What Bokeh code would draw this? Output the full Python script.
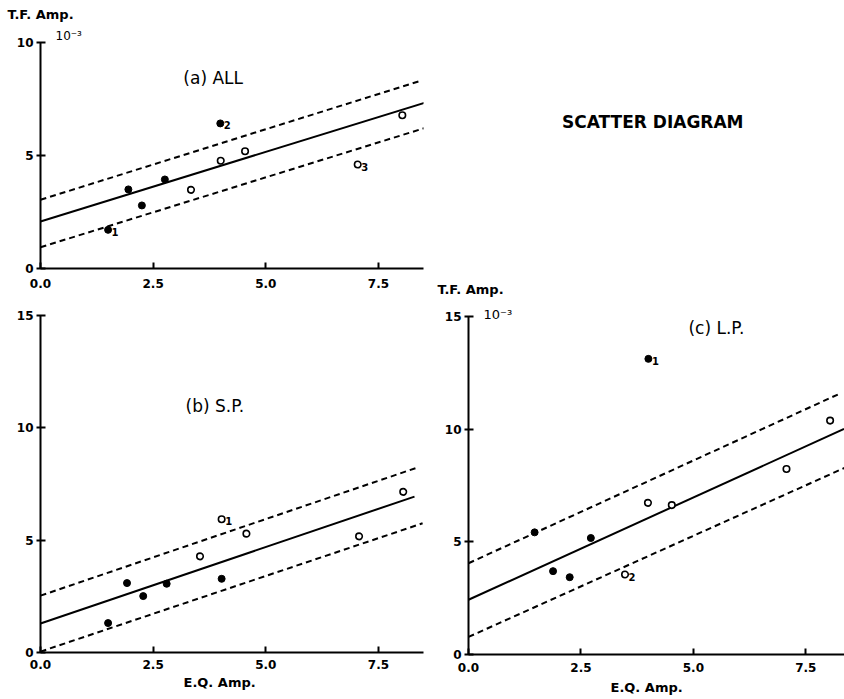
from bokeh.plotting import figure
from bokeh.layouts import row, column
from bokeh.models import Label, Range1d, FixedTicker, PrintfTickFormatter, ColumnDataSource, Title
from bokeh.embed import file_html
from bokeh.resources import INLINE
from bokeh.core.properties import value

# ---------------- data ----------------
x_ticks = [0.0, 2.5, 5.0, 7.5]

# (a) ALL
a_filled_x = [1.95, 2.25, 2.76, 1.50, 3.99]
a_filled_y = [3.50, 2.79, 3.94, 1.71, 6.42]
a_open_x = [3.34, 4.00, 4.54, 7.04, 8.03]
a_open_y = [3.48, 4.77, 5.19, 4.60, 6.78]
a_line_x0 = [0.0, 0.0, 0.0]
a_line_y0 = [2.08, 3.04, 0.94]
a_line_x1 = [8.52, 8.41, 8.52]
a_line_y1 = [7.33, 8.29, 6.21]
a_note_x = [1.50, 3.99, 7.04]
a_note_y = [1.71, 6.42, 4.60]
a_note_t = ["1", "2", "3"]
a_y_ticks = [0, 5, 10]

# (b) S.P.
b_filled_x = [1.50, 1.92, 2.28, 2.80, 4.02]
b_filled_y = [1.31, 3.09, 2.51, 3.06, 3.28]
b_open_x = [3.54, 4.02, 4.57, 7.07, 8.05]
b_open_y = [4.28, 5.93, 5.29, 5.17, 7.15]
b_line_x0 = [0.0, 0.0, 0.0]
b_line_y0 = [1.29, 2.53, 0.04]
b_line_x1 = [8.30, 8.39, 8.48]
b_line_y1 = [6.94, 8.25, 5.75]
b_note_x = [4.02]
b_note_y = [5.93]
b_note_t = ["1"]
b_y_ticks = [0, 5, 10, 15]

# (c) L.P.
c_filled_x = [1.47, 1.88, 2.25, 2.72, 4.00]
c_filled_y = [5.42, 3.70, 3.43, 5.17, 13.12]
c_open_x = [3.48, 3.99, 4.52, 7.07, 8.04]
c_open_y = [3.55, 6.73, 6.63, 8.23, 10.38]
c_line_x0 = [0.0, 0.0, 0.0]
c_line_y0 = [2.43, 4.05, 0.78]
c_line_x1 = [8.35, 8.28, 8.37]
c_line_y1 = [10.01, 11.60, 8.29]
c_note_x = [4.00, 3.48]
c_note_y = [13.12, 3.55]
c_note_t = ["1", "2"]
c_y_ticks = [0, 5, 10, 15]

FONT = "DejaVu Sans"
LINE_DASH = ["solid", "6 4", "6 4"]


def panel(w, h, left, right, top, bottom, xend, yend, yticks, standoff,
          fx, fy, ox, oy, lx0, ly0, lx1, ly1, nx, ny, nt):
    p = figure(width=w, height=h, output_backend="svg", toolbar_location=None,
               title=None,
               x_range=Range1d(0, xend), y_range=Range1d(0, yend),
               min_border_left=left, min_border_right=right,
               min_border_top=top, min_border_bottom=bottom)
    p.outline_line_color = None
    p.grid.visible = False
    p.background_fill_color = "white"
    p.border_fill_color = "white"
    for ax in (p.xaxis[0], p.yaxis[0]):
        ax.axis_line_width = 2
        ax.axis_line_color = "black"
        ax.major_tick_line_width = 2
        ax.major_tick_line_color = "black"
        ax.minor_tick_line_color = None
        ax.major_label_text_font = FONT
        ax.major_label_text_font_style = "bold"
        ax.major_label_text_font_size = "12px"
        ax.major_label_text_color = "black"
    p.xaxis.ticker = FixedTicker(ticks=x_ticks)
    p.xaxis.formatter = PrintfTickFormatter(format="%.1f")
    p.xaxis.major_tick_in = 6
    p.xaxis.major_tick_out = 0
    p.xaxis.major_label_standoff = standoff
    p.yaxis.ticker = FixedTicker(ticks=yticks)
    p.yaxis.formatter = PrintfTickFormatter(format="%d")
    p.yaxis.major_tick_in = 5
    p.yaxis.major_tick_out = 4
    p.yaxis.major_label_standoff = 3

    for i in range(len(lx0)):
        p.line([lx0[i], lx1[i]], [ly0[i], ly1[i]], line_color="black",
               line_width=2, line_dash=LINE_DASH[i])
    p.scatter(fx, fy, marker="circle", size=7, fill_color="black", line_color="black")
    p.scatter(ox, oy, marker="circle", size=6.5, fill_color="white",
              line_color="black", line_width=1.6)
    src = ColumnDataSource(dict(x=nx, y=ny, t=nt))
    p.text("x", "y", text="t", source=src, x_offset=7, y_offset=2,
           text_align="center", text_baseline="middle",
           text_font=value(FONT), text_font_style="bold",
           text_font_size="10px", text_color="black")
    return p


def lab(p, x, y, text, size, style="bold", align="left"):
    p.add_layout(Label(x=x, y=y, text=text, text_font=FONT, text_font_style=style,
                       text_font_size=size, text_align=align,
                       text_baseline="middle", text_color="black"))


def title(p, text, where, offset, size, style="bold", standoff=0):
    p.add_layout(Title(text=text, align="left", offset=offset, standoff=standoff,
                       text_font=FONT, text_font_style=style,
                       text_font_size=size, text_color="black"), where)


pa = panel(430, 300, 40, 7, 42, 32, 8.5, 10, a_y_ticks, 10,
           a_filled_x, a_filled_y, a_open_x, a_open_y,
           a_line_x0, a_line_y0, a_line_x1, a_line_y1, a_note_x, a_note_y, a_note_t)
title(pa, "10\u207b\u00b3", "above", 15, "12px", "normal", standoff=0)
title(pa, "T.F. Amp.", "above", -33, "13px", standoff=9)
lab(pa, 3.17, 8.45, "(a) ALL", "17px", "normal")

pb = panel(430, 399, 40, 7, 15, 47, 8.5, 15, b_y_ticks, 7,
           b_filled_x, b_filled_y, b_open_x, b_open_y,
           b_line_x0, b_line_y0, b_line_x1, b_line_y1, b_note_x, b_note_y, b_note_t)
title(pb, "E.Q. Amp.", "below", 143, "13px", standoff=2)
lab(pb, 3.22, 10.99, "(b) S.P.", "17px", "normal")

pt = figure(width=414, height=266, output_backend="svg", toolbar_location=None,
            title=None, x_axis_type=None, y_axis_type=None,
            x_range=Range1d(0, 414), y_range=Range1d(0, 266),
            min_border_left=0, min_border_right=0, min_border_top=0, min_border_bottom=0)
pt.grid.visible = False
pt.outline_line_color = None
lab(pt, 103, 144.5, "SCATTER DIAGRAM", "17px")

pc = panel(414, 433, 38, 0, 50, 45, 8.36, 15, c_y_ticks, 8,
           c_filled_x, c_filled_y, c_open_x, c_open_y,
           c_line_x0, c_line_y0, c_line_x1, c_line_y1, c_note_x, c_note_y, c_note_t)
title(pc, "10\u207b\u00b3", "above", 15, "13px", "normal", standoff=-10)
title(pc, "T.F. Amp.", "above", -31, "13px", standoff=26)
title(pc, "E.Q. Amp.", "below", 142, "13px", standoff=6)
lab(pc, 4.89, 14.50, "(c) L.P.", "17px", "normal")

layout = row(column(pa, pb), column(pt, pc))
open("out.html", "w").write(file_html(layout, INLINE))
